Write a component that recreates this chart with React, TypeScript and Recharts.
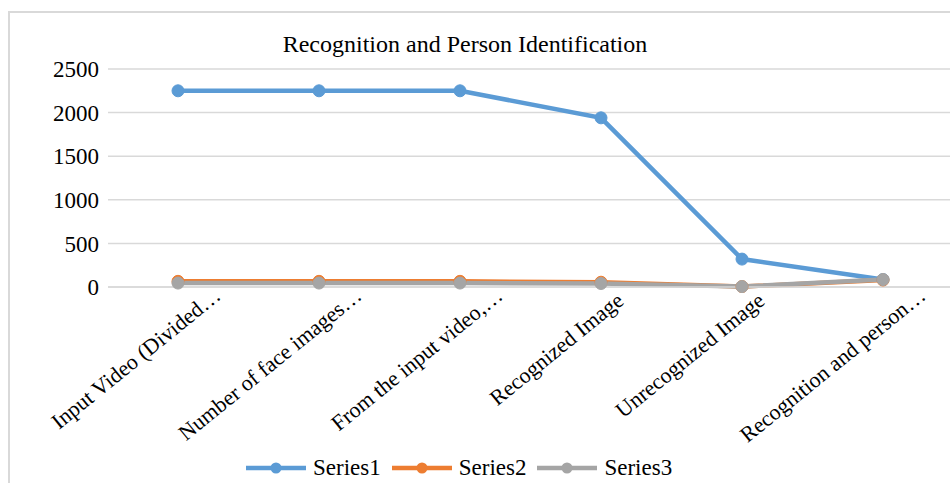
import { LineChart, Line, XAxis, YAxis, CartesianGrid, Legend } from 'recharts';

const categories = [
  'Input Video (Divided…',
  'Number of face images…',
  'From the input video,…',
  'Recognized Image',
  'Unrecognized Image',
  'Recognition and person…',
];
const series1 = [2250, 2250, 2250, 1940, 320, 85];
const series2 = [65, 65, 65, 55, 5, 80];
const series3 = [45, 45, 45, 40, 5, 85];
const yTicks = [0, 500, 1000, 1500, 2000, 2500];

const seriesMeta = [
  { key: 'Series1', color: '#5b9bd5' },
  { key: 'Series2', color: '#ed7d31' },
  { key: 'Series3', color: '#a5a5a5' },
];

const data = categories.map((name, i) => ({
  name,
  Series1: series1[i],
  Series2: series2[i],
  Series3: series3[i],
}));

const FONT = '"Liberation Serif", "Times New Roman", serif';

// Excel pushes truncated (…) labels a bit further right/up than whole ones
function CategoryTick(props: any) {
  const { x, y, payload } = props;
  const cut = String(payload.value).endsWith('…');
  const ax = x + (cut ? 44 : 24);
  const ay = y + (cut ? 9 : 14);
  return (
    <text
      x={ax}
      y={ay}
      textAnchor="end"
      fontSize={22}
      fontFamily={FONT}
      fill="#000"
      transform={`rotate(-39, ${ax}, ${ay})`}
    >
      {payload.value}
    </text>
  );
}

function LegendContent() {
  return (
    <div style={{ display: 'flex', alignItems: 'center', height: 30, paddingLeft: 246, fontFamily: FONT, fontSize: 23 }}>
      {seriesMeta.map(s => (
        <div key={s.key} style={{ display: 'flex', alignItems: 'center', marginRight: 11 }}>
          <svg width={60} height={14} style={{ marginRight: 7 }}>
            <line x1={0} y1={7} x2={60} y2={7} stroke={s.color} strokeWidth={4.5} strokeLinecap="round" />
            <circle cx={30} cy={7} r={5.5} fill={s.color} />
          </svg>
          <span>{s.key}</span>
        </div>
      ))}
    </div>
  );
}

export default function App() {
  return (
    <div style={{ position: 'relative', width: 950, height: 483, overflow: 'hidden', background: '#fff' }}>
      <style>{'body{margin:0;overflow:hidden;}'}</style>
      <div
        style={{
          position: 'absolute',
          left: 8,
          top: 11,
          width: 960,
          height: 500,
          borderLeft: '2px solid #d9d9d9',
          borderTop: '2px solid #d9d9d9',
        }}
      />
      <div
        style={{
          position: 'absolute',
          left: 0,
          width: 930,
          top: 31,
          textAlign: 'center',
          fontFamily: FONT,
          fontSize: 24,
          color: '#000',
        }}
      >
        Recognition and Person Identification
      </div>
      <div style={{ position: 'absolute', left: 0, top: 0 }}>
        <LineChart width={953} height={483} data={data} margin={{ top: 69, right: 0, left: 0, bottom: 0 }}>
          <CartesianGrid vertical={false} stroke="#d9d9d9" strokeWidth={1.5} />
          <XAxis
            dataKey="name"
            height={166}
            interval={0}
            padding={{ left: 70, right: 70 }}
            tickLine={false}
            tickSize={0}
            axisLine={{ stroke: '#d9d9d9', strokeWidth: 1.5 }}
            tick={<CategoryTick />}
          />
          <YAxis
            width={108}
            domain={[0, 2500]}
            ticks={yTicks}
            tickLine={false}
            axisLine={false}
            tickSize={0}
            tickMargin={9}
            tick={{ fontSize: 23, fontFamily: FONT, fill: '#000' }}
          />
          <Legend verticalAlign="bottom" height={30} wrapperStyle={{ left: 0, width: 953 }} content={<LegendContent />} />
          {seriesMeta.map(s => (
            <Line
              key={s.key}
              dataKey={s.key}
              stroke={s.color}
              strokeWidth={4.5}
              dot={{ r: 6, fill: s.color, stroke: s.color, strokeWidth: 1 }}
              isAnimationActive={false}
            />
          ))}
        </LineChart>
      </div>
    </div>
  );
}
